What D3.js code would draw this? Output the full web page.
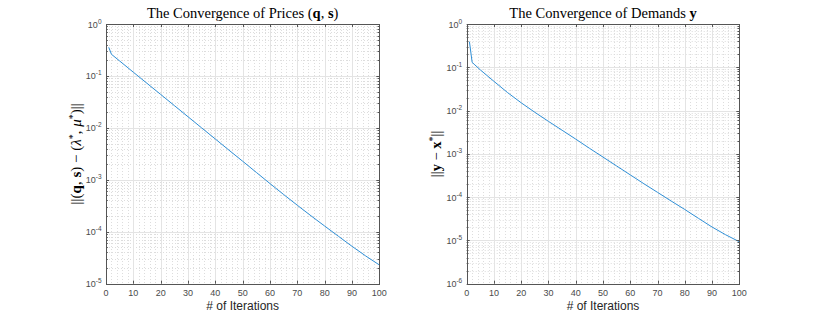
<!DOCTYPE html>
<html>
<head>
<meta charset="utf-8">
<script src="https://cdn.jsdelivr.net/npm/d3@7"></script>
<style>
  html, body { margin: 0; padding: 0; background: #fff; }
  svg { display: block; }
</style>
</head>
<body>
<svg id="chart" width="817" height="319"></svg>
<script>
// ---------------- data ----------------
const iterPrices = [1, 2, 5, 10, 15, 20, 25, 30, 35, 40, 45, 50, 55, 60, 65, 70, 75, 80, 85, 90, 95, 100];
const errPrices  = [0.356, 0.261, 0.194, 0.118, 0.0721, 0.0441, 0.0269, 0.0164, 0.0100, 0.00611, 0.00372,
                    0.00228, 0.00139, 0.000847, 0.000521, 0.000324, 0.000203, 0.000129, 0.0000822,
                    0.0000525, 0.0000343, 0.0000230];

const iterDemands = [1, 2, 3, 5, 10, 15, 20, 25, 30, 35, 40, 45, 50, 55, 60, 65, 70, 75, 80, 85, 90, 95, 100];
const errDemands  = [0.390, 0.130, 0.1135, 0.0871, 0.0473, 0.0260, 0.0151, 0.00912, 0.00562, 0.00351,
                     0.00219, 0.00135, 0.000841, 0.000525, 0.000327, 0.000204, 0.000129, 0.0000813,
                     0.0000519, 0.0000324, 0.0000204, 0.0000135, 0.00000933];

const xTicks = [0, 10, 20, 30, 40, 50, 60, 70, 80, 90, 100];
const yExpPrices  = [0, -1, -2, -3, -4, -5];
const yExpDemands = [0, -1, -2, -3, -4, -5, -6];
const xLabel = "# of Iterations";

// ---------------- drawing ----------------
const svg = d3.select("#chart");
const AX = "#555555", TICKTXT = "#4a4a4a";
const SERIF = "'Liberation Serif', 'DejaVu Serif', serif";
const SANS = "'Liberation Sans', Arial, Helvetica, sans-serif";
const MINOR = "#dddddd", MAJOR = "#e4e4e4";

function panel(opt) {
  const x = d3.scaleLinear().domain([0, 100]).range([opt.x0, opt.x1]);
  const yMin = Math.pow(10, d3.min(opt.yExp)), yMax = Math.pow(10, d3.max(opt.yExp));
  const y = d3.scaleLog().domain([yMin, yMax]).range([opt.yBot, opt.yTop]);
  const g = svg.append("g");

  // minor grid x (every 2)
  const xMinor = d3.range(0, 101, 2).filter(v => v % 10 !== 0);
  g.selectAll(".xmg").data(xMinor).enter().append("line")
    .attr("x1", d => Math.round(x(d)) + 0.5).attr("x2", d => Math.round(x(d)) + 0.5)
    .attr("y1", opt.yTop).attr("y2", opt.yBot)
    .attr("stroke", MINOR).attr("stroke-width", 1).attr("stroke-dasharray", "1,2");
  // minor grid y (2..9 per decade)
  const yMinor = [];
  opt.yExp.forEach(e => { if (e < d3.max(opt.yExp)) for (let m = 2; m <= 9; m++) yMinor.push(m * Math.pow(10, e)); });
  g.selectAll(".ymg").data(yMinor).enter().append("line")
    .attr("x1", opt.x0).attr("x2", opt.x1)
    .attr("y1", d => Math.round(y(d)) + 0.5).attr("y2", d => Math.round(y(d)) + 0.5)
    .attr("stroke", MINOR).attr("stroke-width", 1).attr("stroke-dasharray", "1,2");
  // major grid
  g.selectAll(".xg").data(xTicks).enter().append("line")
    .attr("x1", d => Math.round(x(d)) + 0.5).attr("x2", d => Math.round(x(d)) + 0.5)
    .attr("y1", opt.yTop).attr("y2", opt.yBot)
    .attr("stroke", MAJOR).attr("stroke-width", 1);
  g.selectAll(".yg").data(opt.yExp).enter().append("line")
    .attr("x1", opt.x0).attr("x2", opt.x1)
    .attr("y1", d => Math.round(y(Math.pow(10, d))) + 0.5).attr("y2", d => Math.round(y(Math.pow(10, d))) + 0.5)
    .attr("stroke", MAJOR).attr("stroke-width", 1);

  // data line
  const pts = opt.iters.map((it, i) => [it, opt.vals[i]]);
  g.append("path").datum(pts)
    .attr("fill", "none").attr("stroke", "#2f8fd6").attr("stroke-width", 1)
    .attr("d", d3.line().x(d => x(d[0])).y(d => y(d[1])));

  // box
  g.append("rect")
    .attr("x", Math.round(opt.x0) + 0.5).attr("y", Math.round(opt.yTop) + 0.5)
    .attr("width", Math.round(opt.x1) - Math.round(opt.x0)).attr("height", Math.round(opt.yBot) - Math.round(opt.yTop))
    .attr("fill", "none").attr("stroke", AX).attr("stroke-width", 1);

  // ticks (inward) x major, top & bottom
  xTicks.forEach(t => {
    const px = Math.round(x(t)) + 0.5;
    g.append("line").attr("x1", px).attr("x2", px).attr("y1", opt.yBot).attr("y2", opt.yBot - 3).attr("stroke", AX);
    g.append("line").attr("x1", px).attr("x2", px).attr("y1", opt.yTop).attr("y2", opt.yTop + 3).attr("stroke", AX);
  });
  // y major & minor ticks, left & right
  opt.yExp.forEach(e => {
    const py = Math.round(y(Math.pow(10, e))) + 0.5;
    g.append("line").attr("x1", opt.x0).attr("x2", opt.x0 + 3).attr("y1", py).attr("y2", py).attr("stroke", AX);
    g.append("line").attr("x1", opt.x1).attr("x2", opt.x1 - 3).attr("y1", py).attr("y2", py).attr("stroke", AX);
  });
  yMinor.forEach(v => {
    const py = Math.round(y(v)) + 0.5;
    g.append("line").attr("x1", opt.x0).attr("x2", opt.x0 + 1.8).attr("y1", py).attr("y2", py).attr("stroke", AX);
    g.append("line").attr("x1", opt.x1).attr("x2", opt.x1 - 1.8).attr("y1", py).attr("y2", py).attr("stroke", AX);
  });

  // x tick labels
  g.selectAll(".xtl").data(xTicks).enter().append("text")
    .attr("x", d => x(d)).attr("y", opt.yBot + 12.5)
    .attr("text-anchor", "middle").attr("font-family", SANS).attr("font-size", 9)
    .attr("fill", TICKTXT).text(d => d);
  // y tick labels 10^e
  opt.yExp.forEach(e => {
    const t = g.append("text")
      .attr("x", opt.x0 - 4.5).attr("y", y(Math.pow(10, e)) + 3.5)
      .attr("text-anchor", "end").attr("font-family", SANS).attr("font-size", 9).attr("fill", TICKTXT);
    t.append("tspan").text("10");
    t.append("tspan").attr("dy", -4).attr("font-size", 6.5).text(String(e));
  });

  // x label
  g.append("text").attr("x", (opt.x0 + opt.x1) / 2).attr("y", 310)
    .attr("text-anchor", "middle").attr("font-family", SANS).attr("font-size", 12)
    .attr("fill", "#262626").text(xLabel);

  // title
  const tt = g.append("text").attr("x", (opt.x0 + opt.x1) / 2).attr("y", 18)
    .attr("text-anchor", "middle").attr("font-family", SERIF).attr("font-size", 14.5).attr("fill", "#000");
  opt.title.forEach(p => { const s = tt.append("tspan").text(p.t); if (p.b) s.attr("font-weight", "bold"); });

  // y label
  const yl = g.append("text")
    .attr("transform", `translate(${opt.ylx},${(opt.yTop + opt.yBot) / 2}) rotate(-90)`)
    .attr("text-anchor", "middle").attr("font-family", SERIF).attr("font-size", opt.ylfs).attr("fill", "#000");
  opt.ylabel.forEach(p => {
    const s = yl.append("tspan").text(p.t);
    if (p.b) s.attr("font-weight", "bold");
    if (p.i) s.attr("font-style", "italic");
    if (p.dy !== undefined) s.attr("dy", p.dy);
    if (p.fs) s.attr("font-size", p.fs);
  });
}

panel({
  x0: 106, x1: 379.3, yTop: 24, yBot: 283.7, yExp: yExpPrices,
  iters: iterPrices, vals: errPrices, ylx: 81, ylfs: 15,
  title: [{t: "The Convergence of Prices ("}, {t: "q", b: 1}, {t: ", "}, {t: "s", b: 1}, {t: ")"}],
  ylabel: [{t: "||("}, {t: "q", b: 1}, {t: ", "}, {t: "s", b: 1}, {t: ") \u2212 ("},
           {t: "\u03BB", i: 1}, {t: "*", dy: -5, fs: 10}, {t: ", ", dy: 5, fs: 15},
           {t: "\u03BC", i: 1}, {t: "*", dy: -5, fs: 10}, {t: ")||", dy: 5, fs: 15}]
});

panel({
  x0: 466.7, x1: 739.3, yTop: 24, yBot: 283.7, yExp: yExpDemands,
  iters: iterDemands, vals: errDemands, ylx: 441, ylfs: 14.5,
  title: [{t: "The Convergence of Demands "}, {t: "y", b: 1}],
  ylabel: [{t: "||"}, {t: "y", b: 1}, {t: " \u2212 "}, {t: "x", b: 1}, {t: "*", dy: -5, fs: 10}, {t: "||", dy: 5, fs: 14.5}]
});
</script>
</body>
</html>
